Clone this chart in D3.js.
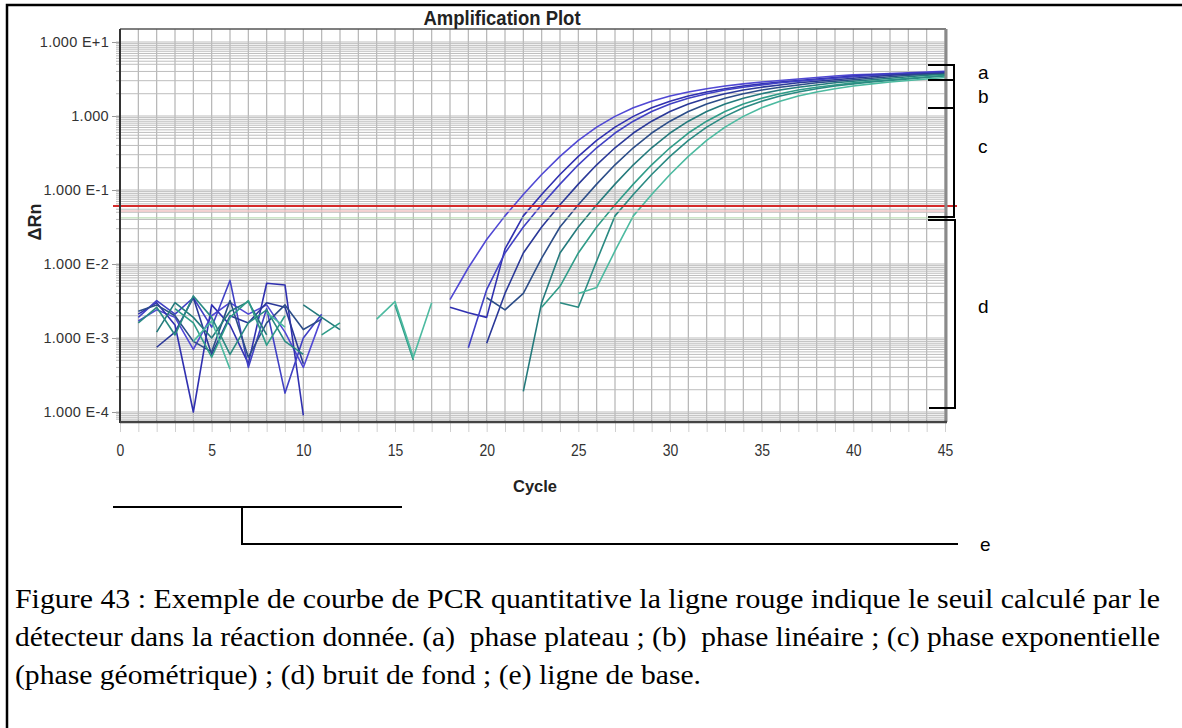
<!DOCTYPE html>
<html><head><meta charset="utf-8">
<script src="https://cdn.jsdelivr.net/npm/d3@7"></script>
<style>body{margin:0;background:#fff;} svg{display:block;}</style>
</head><body>
<svg id="chart" width="1182" height="728"></svg>
<script>
// ---------- data ----------
const cycles = [1,2,3,4,5,6,7,8,9,10,11,12,13,14,15,16,17,18,19,20,21,22,23,24,25,26,27,28,29,30,31,32,33,34,35,36,37,38,39,40,41,42,43,44,45];
const xTickLabels = [0,5,10,15,20,25,30,35,40,45];
const yTickValues = [1e-4,1e-3,1e-2,1e-1,1,10];
const yTickLabels = ["1.000 E-4","1.000 E-3","1.000 E-2","1.000 E-1","1.000","1.000 E+1"];
const threshold = 0.0608;
const threshold2 = 0.042;

const w1 = [0.0017,0.0024,0.0019,0.00070,0.0020,0.0030,0.0021,0.0028,0.0012,0.00040,0.0019,null,null,null,null,null,null,0.0033,0.0089,0.0214,0.0447,0.0871,0.162,0.285,0.468,0.708,0.989,1.29,1.58,1.86,2.11,2.34,2.54,2.72,2.88,3.02,3.16,3.31,3.47,3.59,3.67,3.76,3.85,3.94,4.03];
const w2 = [0.0021,0.0030,0.0015,0.00010,0.0028,0.0015,0.00045,0.0055,0.0052,0.00009,null,null,null,null,null,null,null,0.0026,0.0022,0.0019,0.0160,0.0447,0.0871,0.162,0.285,0.468,0.708,0.989,1.29,1.58,1.86,2.11,2.34,2.54,2.72,2.88,3.02,3.16,3.31,3.47,3.59,3.67,3.76,3.85,3.94];
const w3 = [0.0019,0.0032,0.0021,0.0035,0.0014,0.0060,0.00040,0.0025,0.00018,0.0010,0.0021,null,null,null,null,null,null,null,0.00074,0.0045,0.0141,0.0316,0.0631,0.120,0.219,0.372,0.589,0.851,1.15,1.45,1.74,2.00,2.24,2.45,2.63,2.82,2.95,3.09,3.24,3.39,3.55,3.63,3.72,3.80,3.89];
const w4 = [null,0.00075,0.0012,0.0035,0.00060,0.0020,0.0016,0.0030,0.0026,0.00045,null,null,null,null,null,null,null,null,null,0.00085,0.0040,0.0141,0.0316,0.0631,0.120,0.219,0.372,0.589,0.851,1.15,1.45,1.74,2.00,2.24,2.45,2.63,2.82,2.95,3.09,3.24,3.39,3.55,3.63,3.72,3.80];
const w5 = [0.0023,0.0028,0.0020,0.00090,0.00065,0.0032,0.00055,0.0016,0.0028,0.0013,0.0018,null,null,null,null,null,null,null,null,0.0035,0.0024,0.0040,0.0120,0.0316,0.0631,0.120,0.219,0.372,0.589,0.851,1.15,1.45,1.74,2.00,2.24,2.45,2.63,2.82,2.95,3.09,3.24,3.39,3.55,3.63,3.72];
const w6 = [null,0.0012,0.0030,0.0019,0.0010,0.0023,0.0031,0.0011,null,0.0028,0.0019,0.0013,null,null,null,null,null,null,null,null,null,0.00019,0.0030,0.0141,0.0316,0.0631,0.120,0.219,0.372,0.589,0.851,1.15,1.45,1.74,2.00,2.24,2.45,2.63,2.82,2.95,3.09,3.24,3.39,3.55,3.63];
const w7 = [null,null,0.0025,0.0016,0.00055,0.0019,0.0032,0.00080,0.0020,null,0.0011,0.0016,null,null,0.0028,0.00050,null,null,null,null,null,null,0.0026,0.0050,0.0141,0.0316,0.0631,0.120,0.219,0.372,0.589,0.851,1.15,1.45,1.74,2.00,2.24,2.45,2.63,2.82,2.95,3.09,3.24,3.39,3.55];
const w8 = [0.0016,0.0026,0.0011,0.0037,0.0019,0.00060,0.0016,0.0024,0.00090,0.00060,null,null,null,null,null,null,null,null,null,null,null,null,null,0.0030,0.0026,0.0110,0.0447,0.0871,0.162,0.285,0.468,0.708,0.989,1.29,1.58,1.86,2.11,2.34,2.54,2.72,2.88,3.02,3.16,3.31,3.47];
const w9 = [null,null,null,0.00090,0.0017,0.00038,null,0.0022,0.0014,null,null,null,null,0.0018,0.0031,0.00055,0.0030,null,null,null,null,null,null,null,0.0040,0.0048,0.0150,0.0447,0.0871,0.162,0.285,0.468,0.708,0.989,1.29,1.58,1.86,2.11,2.34,2.54,2.72,2.88,3.02,3.16,3.31];
const wells = [w1,w2,w3,w4,w5,w6,w7,w8,w9];
const wellColors = ["#5048d4","#3030b0","#4040c4","#2a3898","#2c4d88","#247a7c","#2f9c88","#2a8a82","#4cbaa0"];

const phaseLabels = ["a","b","c","d","e"];
const captionLines = [
  "Figure 43 : Exemple de courbe de PCR quantitative la ligne rouge indique le seuil calculé par le",
  "détecteur dans la réaction donnée. (a)  phase plateau ; (b)  phase linéaire ; (c) phase exponentielle",
  "(phase géométrique) ; (d) bruit de fond ; (e) ligne de base."
];

// ---------- layout ----------
const svg = d3.select("#chart");
const plotL = 120, plotR = 946, plotT = 29, plotB = 422;
const x = d3.scaleLinear().domain([0,45]).range([120,945]);
const y = d3.scaleLog().domain([1e-4,10]).range([412,42]);
const sans = "'Liberation Sans', Arial, sans-serif";
const serif = "'Liberation Serif', 'Times New Roman', serif";

// outer frame (top + left)
svg.append("path").attr("d","M7,728V5H1182").attr("fill","none").attr("stroke","#000").attr("stroke-width",2.5);

// plot background
svg.append("rect").attr("x",plotL).attr("y",plotT).attr("width",plotR-plotL).attr("height",plotB-plotT).attr("fill","#fff");

// grid
const grid = svg.append("g");
const vLines = d3.range(0,46);
grid.selectAll("line.v").data(vLines).join("line")
  .attr("x1",d=>x(d)).attr("x2",d=>x(d)).attr("y1",plotT).attr("y2",plotB)
  .attr("stroke","#b4b4b4").attr("stroke-width",1.2);
const hVals = [];
for (let e=-5;e<=1;e++){
  [1,2,3,4,5,5.5,6,6.5,7,7.5,8,8.5,9,9.5].forEach(k=>{
    const v = k*Math.pow(10,e);
    if (y(v) > plotT+1 && y(v) < plotB-1) hVals.push(v);
  });
}
grid.selectAll("line.h").data(hVals).join("line")
  .attr("x1",plotL).attr("x2",plotR).attr("y1",d=>y(d)).attr("y2",d=>y(d))
  .attr("stroke","#bdbdbd").attr("stroke-width",1);

// axes
const yAxis = d3.axisLeft(y).tickValues(yTickValues).tickFormat((d,i)=>yTickLabels[i]).tickSize(8).tickPadding(3);
const gy = svg.append("g").attr("transform",`translate(${plotL},0)`).call(yAxis);
gy.select(".domain").remove();
gy.selectAll(".tick line").attr("stroke","#999");
gy.selectAll(".tick text").style("font-family",sans).attr("font-size",14.5).attr("fill","#333").attr("letter-spacing",0.3);
// minor y ticks
svg.append("g").selectAll("line").data(hVals).join("line")
  .attr("x1",plotL-4).attr("x2",plotL).attr("y1",d=>y(d)).attr("y2",d=>y(d)).attr("stroke","#bbb");

const xAxis = d3.axisBottom(x).tickValues(vLines).tickFormat(d=> xTickLabels.includes(d) ? d : "").tickSize(10).tickPadding(0);
const gx = svg.append("g").attr("transform",`translate(0,${plotB})`).call(xAxis);
gx.select(".domain").remove();
gx.selectAll(".tick line").attr("stroke","#d0d0d0");
gx.selectAll(".tick text").style("font-family",sans).attr("font-size",14).attr("fill","#333")
  .attr("dy",null).attr("y",34/1.22).attr("transform","scale(1,1.22)");

// curves
svg.append("clipPath").attr("id","clip").append("rect").attr("x",plotL).attr("y",plotT).attr("width",plotR-plotL).attr("height",plotB-plotT);
const line = d3.line().defined(d=>d[1]!=null).x(d=>x(d[0])).y(d=>y(d[1]));
const gc = svg.append("g").attr("clip-path","url(#clip)");
wells.forEach((w,i)=>{
  gc.append("path").datum(cycles.map((c,j)=>[c,w[j]]))
    .attr("d",line).attr("fill","none").attr("stroke",wellColors[i]).attr("stroke-width",1.6).attr("stroke-linejoin","round");
});

// threshold lines
svg.append("line").attr("x1",plotL).attr("x2",plotR).attr("y1",y(threshold2)).attr("y2",y(threshold2)).attr("stroke","#b0d8a8").attr("stroke-width",1);
svg.append("line").attr("x1",plotL).attr("x2",plotR).attr("y1",y(threshold)+5).attr("y2",y(threshold)+5).attr("stroke","#f0c4c4").attr("stroke-width",1.5);
svg.append("line").attr("x1",113).attr("x2",957).attr("y1",y(threshold)).attr("y2",y(threshold)).attr("stroke","#d42a2a").attr("stroke-width",2.2);

// frame
svg.append("line").attr("x1",plotL).attr("x2",plotR).attr("y1",plotT).attr("y2",plotT).attr("stroke","#555").attr("stroke-width",1.5);
svg.append("line").attr("x1",plotR).attr("x2",plotR).attr("y1",plotT).attr("y2",plotB).attr("stroke","#8a8a8a").attr("stroke-width",3);
svg.append("line").attr("x1",plotL).attr("x2",plotL).attr("y1",plotT).attr("y2",plotB+1).attr("stroke","#333").attr("stroke-width",2);
svg.append("line").attr("x1",plotL).attr("x2",plotR+1).attr("y1",plotB).attr("y2",plotB).attr("stroke","#444").attr("stroke-width",2.5);

// titles
svg.append("text").attr("x",502).attr("y",25/1.12).attr("transform","scale(1,1.12)").attr("text-anchor","middle")
  .style("font-family",sans).attr("font-weight","bold").attr("font-size",18.5).attr("fill","#222")
  .text("Amplification Plot");
svg.append("text").attr("x",535).attr("y",492).attr("text-anchor","middle")
  .style("font-family",sans).attr("font-weight","bold").attr("font-size",16.5).attr("fill","#222")
  .text("Cycle");
svg.append("text").attr("transform","translate(41,222) rotate(-90)").attr("text-anchor","middle")
  .style("font-family",sans).attr("font-weight","bold").attr("font-size",18).attr("fill","#222")
  .text("ΔRn");

// brackets
const br = svg.append("g").attr("fill","none").attr("stroke","#000").attr("stroke-width",2);
br.append("path").attr("d","M928,65H954V218M928,80H954M928,108H954M928,217H955M928,220H955");
br.append("path").attr("d","M955,219V408H929");
br.append("path").attr("d","M113,507H402M242,507V544H958");

const labY = [79,103,153,313,551];
svg.append("g").selectAll("text").data(phaseLabels).join("text")
  .attr("x",d=> d==="e" ? 980 : 978).attr("y",(d,i)=>labY[i])
  .style("font-family",sans).attr("font-size",19).attr("fill","#000").text(d=>d);

// caption
const capY = [608,646,684];
const capW = [1145,1145,686];
svg.append("g").selectAll("text").data(captionLines).join("text")
  .attr("x",15).attr("y",(d,i)=>capY[i])
  .attr("textLength",(d,i)=>capW[i]).attr("lengthAdjust","spacingAndGlyphs")
  .style("font-family",serif).attr("font-size",27).attr("fill","#000")
  .style("white-space","pre")
  .text(d=>d);
</script>
</body></html>
